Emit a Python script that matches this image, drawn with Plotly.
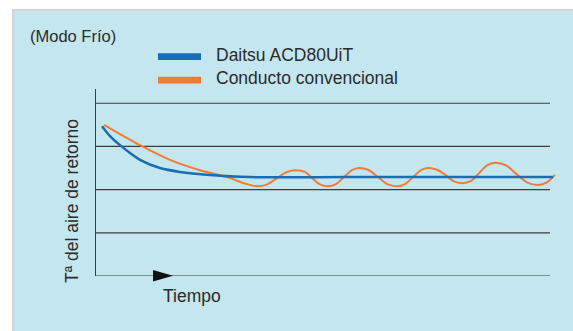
import plotly.graph_objects as go

# ---- data ----
blue_t = [0.6, 1.4, 2.4, 3.4, 4.4, 6.4, 8.4, 11.4, 15.4, 25.0, 35.0, 45.7]
blue_v = [3.47, 3.24, 3.03, 2.85, 2.69, 2.50, 2.41, 2.34, 2.29, 2.29, 2.29, 2.29]

orange_t = [0.8, 4.4, 7.4, 10.4, 13.1, 14.9, 16.1, 17.0, 18.0, 19.0, 19.9, 20.9,
            21.6, 22.4, 23.2, 24.0, 24.8, 25.6, 26.3, 27.2, 28.2, 29.2, 30.1, 30.9,
            31.7, 32.5, 33.2, 34.1, 35.0, 35.8, 36.6, 37.5, 38.3, 39.1, 39.9, 41.0,
            42.0, 43.1, 44.2, 45.1, 45.9]
orange_v = [3.50, 3.03, 2.69, 2.45, 2.29, 2.14, 2.08, 2.11, 2.25, 2.40, 2.45, 2.41,
            2.27, 2.12, 2.08, 2.13, 2.29, 2.45, 2.50, 2.46, 2.29, 2.12, 2.08, 2.13,
            2.29, 2.45, 2.50, 2.46, 2.33, 2.19, 2.15, 2.20, 2.38, 2.56, 2.62, 2.56,
            2.37, 2.17, 2.11, 2.17, 2.34]

grid_levels = [0, 1, 2, 3, 4]

series_names = ["Daitsu ACD80UiT", "Conducto convencional"]
colors = ["#1a6db5", "#f27b36"]
mode_label = "(Modo Frío)"
y_title = "Tª del aire de retorno"
x_title = "Tiempo"

W, H = 573, 331
L, R, T, B = 96, 17, 89, 55
PW, PH = W - L - R, H - T - B


def px(x):
    return (x - L) / PW


def py(y):
    return (H - B - y) / PH


FONT = "Liberation Sans, Arial, Helvetica, sans-serif"
TXT = "#2b2b2b"

fig = go.Figure()
fig.add_trace(go.Scatter(x=orange_t, y=orange_v, mode="lines",
                         line=dict(color=colors[1], width=2, shape="spline", smoothing=1.0),
                         showlegend=False, hoverinfo="skip"))
fig.add_trace(go.Scatter(x=blue_t, y=blue_v, mode="lines",
                         line=dict(color=colors[0], width=2.5, shape="spline", smoothing=0.8),
                         showlegend=False, hoverinfo="skip"))

shapes = []
# background panel
shapes.append(dict(type="rect", xref="paper", yref="paper", layer="below",
                   x0=px(13), x1=px(600), y0=py(10), y1=py(360),
                   fillcolor="#c4e7ef", line=dict(color="#d3d3d3", width=2)))
# gridlines
for g in grid_levels:
    shapes.append(dict(type="line", xref="paper", yref="y", layer="below",
                       x0=0, x1=px(550), y0=g, y1=g,
                       line=dict(color="#3c3c3c", width=1.2)))
# arrow on time axis
shapes.append(dict(type="path", xref="paper", yref="paper",
                   path=f"M {px(153)},{py(270)} L {px(173)},{py(275.8)} L {px(153)},{py(281.5)} Z",
                   fillcolor="#111111", line=dict(width=0)))
# legend swatches
for i, c in enumerate(colors):
    yc = 56.7 + i * 23.4
    shapes.append(dict(type="rect", xref="paper", yref="paper",
                       x0=px(158), x1=px(201), y0=py(yc - 3.4), y1=py(yc + 3.4),
                       fillcolor=c, line=dict(width=0)))

annotations = [
    dict(text=mode_label, xref="paper", yref="paper", x=px(28), y=py(36),
         xanchor="left", yanchor="middle", showarrow=False,
         font=dict(family=FONT, size=16.5, color=TXT)),
    dict(text=y_title, xref="paper", yref="paper", x=px(72), y=py(201),
         xanchor="center", yanchor="middle", textangle=-90, showarrow=False,
         font=dict(family=FONT, size=17.5, color=TXT)),
    dict(text=x_title, xref="paper", yref="paper", x=px(192), y=py(296),
         xanchor="center", yanchor="middle", showarrow=False,
         font=dict(family=FONT, size=17.5, color=TXT)),
]
for i, n in enumerate(series_names):
    annotations.append(dict(text=n, xref="paper", yref="paper", x=px(214), y=py(55 + i * 23.4),
                            xanchor="left", yanchor="middle", showarrow=False,
                            font=dict(family=FONT, size=17.5, color=TXT)))

fig.update_layout(
    width=W, height=H, margin=dict(l=L, r=R, t=T, b=B),
    paper_bgcolor="white", plot_bgcolor="rgba(0,0,0,0)",
    shapes=shapes, annotations=annotations, showlegend=False,
    xaxis=dict(range=[0, 46], showgrid=False, zeroline=False, showline=False,
               showticklabels=False, ticks="", fixedrange=True),
    yaxis=dict(range=[0, 4.33], showgrid=False, zeroline=False, showline=True,
               linecolor="#3c3c3c", linewidth=1.2, showticklabels=False, ticks="",
               fixedrange=True),
)

fig.write_html("out.html", config={"displayModeBar": False},
               post_script="document.body.style.margin='0';document.body.style.overflow='hidden';")
